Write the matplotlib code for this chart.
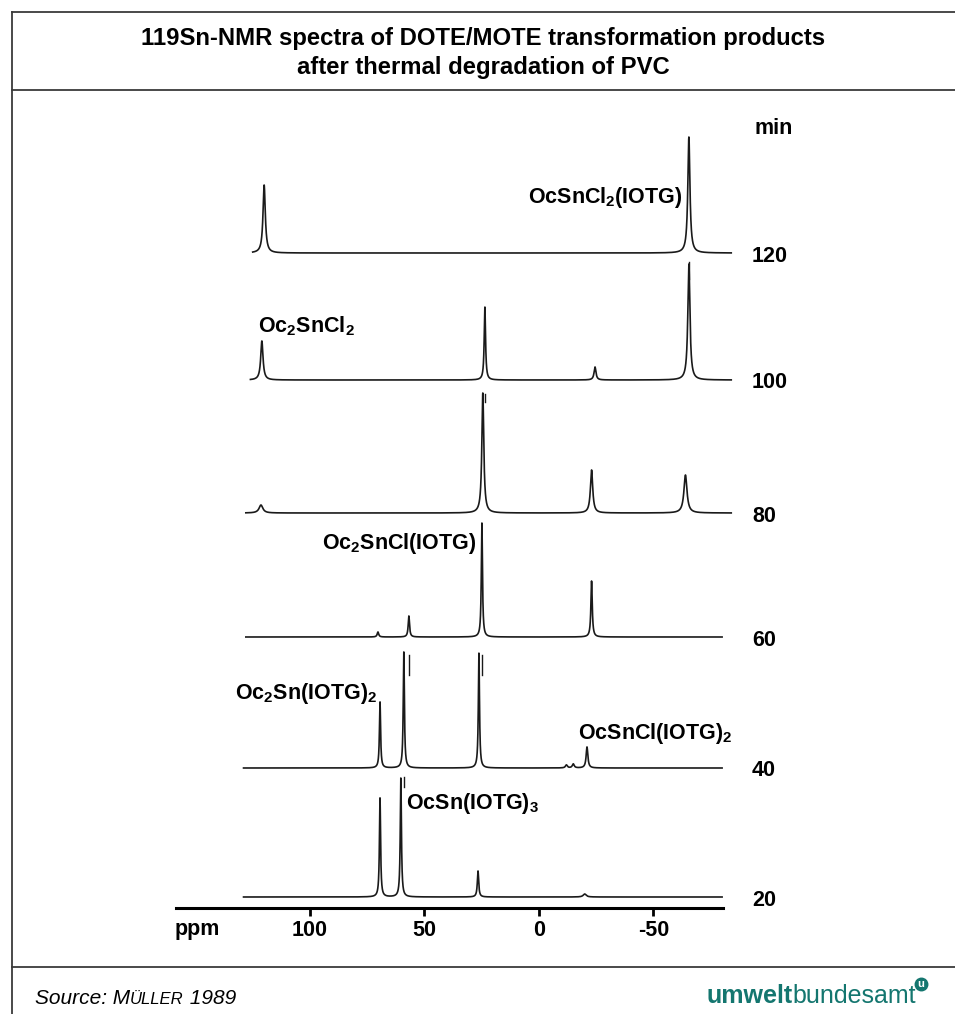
import numpy as np
import matplotlib
matplotlib.use("Agg")
import matplotlib.pyplot as plt
from matplotlib.lines import Line2D

plt.rcParams["font.family"] = ["Liberation Sans", "DejaVu Sans"]
plt.rcParams["mathtext.fontset"] = "custom"
plt.rcParams["mathtext.rm"] = "Liberation Sans:bold"
plt.rcParams["mathtext.it"] = "Liberation Sans:bold"
plt.rcParams["mathtext.bf"] = "Liberation Sans:bold"

# heating time of each spectrum (min), bottom to top
times = [20, 40, 60, 80, 100, 120]

# recorded range of each trace (ppm)
range_start = [129, 129, 128, 128, 126, 125]
range_end = [-80, -80, -80, -84, -84, -84]

# peak positions (ppm), heights (rel. intensity) and half widths (ppm)
peak_ppm = [
    [69.4, 60.3, 26.6, -20.0],
    [69.4, 59.0, 26.2, -12.0, -15.0, -21.0],
    [70.3, 56.8, 24.9, -23.0],
    [121.4, 24.5, -23.0, -64.0],
    [121.0, 23.6, -24.5, -65.5],
    [120.0, -65.5],
]
peak_height = [
    [99, 119, 26, 3],
    [66, 116, 115, 3, 4, 21],
    [5, 21, 114, 56],
    [8, 120, 43, 38],
    [39, 73, 13, 116],
    [68, 116],
]
peak_hwhm = [
    [0.3, 0.3, 0.35, 0.8],
    [0.3, 0.3, 0.3, 0.5, 0.5, 0.45],
    [0.4, 0.35, 0.3, 0.35],
    [1.0, 0.5, 0.6, 0.8],
    [0.6, 0.35, 0.5, 0.55],
    [0.6, 0.55],
]

# compound assignments: label, trace index, ppm of text edge, alignment
compounds = [
    ("OcSnCl$_2$(IOTG)", 5, -62.9, "right"),
    ("Oc$_2$SnCl$_2$", 4, 122.7, "left"),
    ("Oc$_2$SnCl(IOTG)", 2, 27.1, "right"),
    ("Oc$_2$Sn(IOTG)$_2$", 1, 70.7, "right"),
    ("OcSnCl(IOTG)$_2$", 1, -17.0, "left"),
    ("OcSn(IOTG)$_3$", 0, 58.0, "left"),
]

W, H = 955, 1014
fig = plt.figure(figsize=(W / 100, H / 100), dpi=100)


def fx(px):
    return px / W


def fy(py):
    return 1 - py / H


# frame and separators
edge = "#3a3a3a"
fig.add_artist(Line2D([fx(12), fx(12)], [fy(12), fy(H)], color=edge, lw=1.3))
fig.add_artist(Line2D([fx(12), fx(W)], [fy(12), fy(12)], color=edge, lw=1.3))
fig.add_artist(Line2D([fx(12), fx(W)], [fy(90), fy(90)], color=edge, lw=1.3))
fig.add_artist(Line2D([fx(12), fx(W)], [fy(967), fy(967)], color=edge, lw=1.3))

fig.text(fx(483), fy(53),
         "119Sn-NMR spectra of DOTE/MOTE transformation products\nafter thermal degradation of PVC",
         ha="center", va="center", fontsize=17.2, fontweight="bold", linespacing=1.35)

# spectra axes: x in ppm, y in pixel-like intensity units above the ppm axis
ax_left, ax_right, ax_bottom, ax_top = 176, 723, 908, 100
ax = fig.add_axes([fx(ax_left), fy(ax_bottom), fx(ax_right - ax_left), (ax_bottom - ax_top) / H])
ax.set_xlim(158.5, -80.4)
ax.set_ylim(0, ax_bottom - ax_top)
ax.patch.set_alpha(0)
for s in ["top", "left", "right"]:
    ax.spines[s].set_visible(False)
ax.spines["bottom"].set_linewidth(2.2)
ax.set_yticks([])
ax.set_xticks([100, 50, 0, -50])
ax.set_xticklabels(["100", "50", "0", "-50"])
ax.tick_params(axis="x", direction="out", length=6, width=2, pad=3,
               labelsize=15.5)
for t in ax.get_xticklabels():
    t.set_fontweight("bold")
fig.text(fx(197), fy(930), "ppm", ha="center", va="center",
         fontsize=15.5, fontweight="bold")

baselines = [11, 140, 271, 395, 528, 655]

for i, t in enumerate(times):
    x = np.linspace(range_start[i], range_end[i], 8000)
    y = np.zeros_like(x)
    for p, h, w in zip(peak_ppm[i], peak_height[i], peak_hwhm[i]):
        y += h * w ** 2 / ((x - p) ** 2 + w ** 2)
    ax.plot(x, y + baselines[i], color="#1a1a1a", lw=1.2, clip_on=False)
    fig.text(fx(752), fy(ax_bottom - baselines[i] + 3), str(t), ha="left",
             va="center", fontsize=15.5, fontweight="bold")

fig.text(fx(754), fy(128), "min", ha="left", va="center",
         fontsize=15.5, fontweight="bold")

# short marker strokes below selected peaks
for i, p, y0, y1 in [(5, -65.5, -26, -9), (4, 23.6, -22, -14),
                     (2, 56.8, -38, -18), (2, 24.9, -38, -18), (1, 59.0, -19, -9)]:
    ax.plot([p, p], [baselines[i] + y0, baselines[i] + y1], color="#1a1a1a",
            lw=1.0, clip_on=False)

label_dy = [56, 54, 94, 75, 35, 94]
for (txt, i, p, ha), dy in zip(compounds, label_dy):
    ax.text(p, baselines[i] + dy, txt, ha=ha, va="center", fontsize=15.5,
            fontweight="bold")

# footer: source with small-caps author name
base_y = fy(1004)
fig.text(fx(35), base_y, "Source: M", ha="left", va="baseline",
         fontsize=15, style="italic")
fig.canvas.draw()
r = fig.canvas.get_renderer()
bb = fig.texts[-1].get_window_extent(r)
sc = fig.text(bb.x1 / W, base_y, "ÜLLER", ha="left", va="baseline",
              fontsize=12, style="italic")
bb2 = sc.get_window_extent(r)
fig.text(bb2.x1 / W, base_y, " 1989", ha="left", va="baseline",
         fontsize=15, style="italic")

teal = "#14766f"
t1 = fig.text(fx(706), fy(1003), "umwelt", ha="left", va="baseline",
              fontsize=18, fontweight="bold", color=teal)
bb3 = t1.get_window_extent(r)
t2 = fig.text(bb3.x1 / W, fy(1003), "bundesamt", ha="left", va="baseline",
              fontsize=18, color=teal)
bb4 = t2.get_window_extent(r)
fig.add_artist(Line2D([bb4.x1 / W + fx(5)], [fy(984)], marker="o", ms=9,
                      mfc=teal, mec=teal))
fig.text(bb4.x1 / W + fx(5), fy(984), "u", ha="center", va="center",
         fontsize=8, fontweight="bold", color="white")

fig.savefig("out.png", dpi=100)
